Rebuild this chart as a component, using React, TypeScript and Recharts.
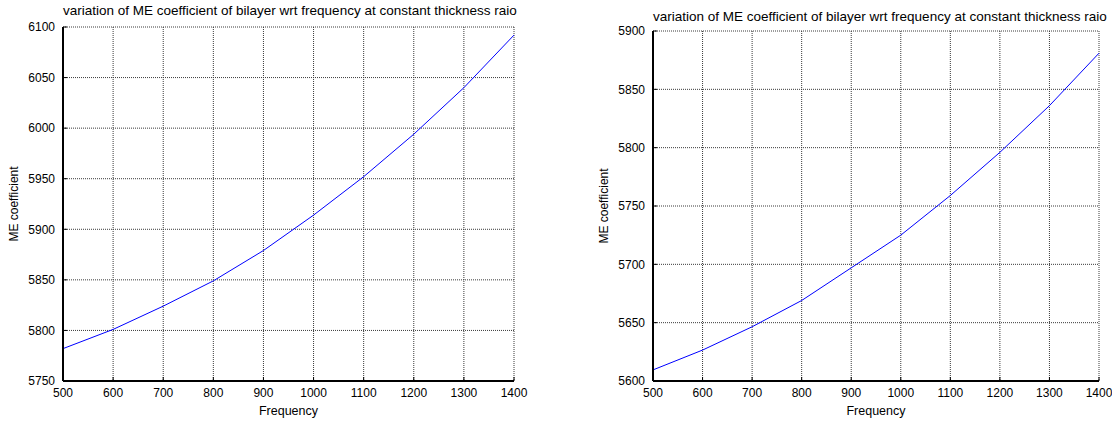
import React from 'react';
import { LineChart, Line, XAxis, YAxis, CartesianGrid } from 'recharts';

const frequency = [500, 600, 700, 800, 900, 1000, 1100, 1200, 1300, 1400];
const meLeft = [5782, 5801, 5824, 5849, 5879, 5914, 5952, 5994, 6040, 6092];
const meRight = [5609.5, 5626.5, 5646.5, 5669, 5697, 5725, 5759, 5796, 5836, 5881];
const xTicks = [500, 600, 700, 800, 900, 1000, 1100, 1200, 1300, 1400];
const yTicksLeft = [5750, 5800, 5850, 5900, 5950, 6000, 6050, 6100];
const yTicksRight = [5600, 5650, 5700, 5750, 5800, 5850, 5900];

const TITLE = 'variation of ME coefficient of bilayer wrt frequency at constant thickness raio';
const X_LABEL = 'Frequency';
const Y_LABEL = 'ME coefficient';

const FONT = '"Liberation Sans", Arial, Helvetica, sans-serif';

const leftData = frequency.map((f, i) => ({ f, v: meLeft[i] }));
const rightData = frequency.map((f, i) => ({ f, v: meRight[i] }));

const YLab = (props: any) => {
  const vb = props.viewBox || {};
  const cx = (vb.x || 0) + 14;
  const cy = (vb.y || 0) + (vb.height || 0) / 2;
  return (
    <text
      x={cx}
      y={cy}
      transform={`rotate(-90 ${cx} ${cy})`}
      textAnchor="middle"
      dominantBaseline="central"
      fontFamily={FONT}
      fontSize={12}
      fill="#000"
    >
      {Y_LABEL}
    </text>
  );
};

const XLab = (props: any) => {
  const vb = props.viewBox || {};
  const cx = (vb.x || 0) + (vb.width || 0) / 2;
  const cy = (vb.y || 0) + 30;
  return (
    <text x={cx} y={cy} textAnchor="middle" dominantBaseline="central" fontFamily={FONT} fontSize={12.5} fill="#000">
      {X_LABEL}
    </text>
  );
};

type PanelProps = {
  data: { f: number; v: number }[];
  yTicks: number[];
  margin: { top: number; right: number; bottom: number; left: number };
};

const Panel = ({ data, yTicks, margin }: PanelProps) => {
  const yDomain = [yTicks[0], yTicks[yTicks.length - 1]];
  const tickStyle = { fontFamily: FONT, fontSize: 12, fill: '#000' };
  return (
    <LineChart width={556} height={421} data={data} margin={margin}>
      <CartesianGrid stroke="#3a3a3a" strokeDasharray="1 1" strokeWidth={1} />
      <XAxis
        dataKey="f"
        type="number"
        domain={[500, 1400]}
        ticks={xTicks}
        interval={0}
        height={40}
        tickSize={-4}
        tickMargin={11}
        tick={tickStyle}
        axisLine={{ stroke: '#000', strokeWidth: 2 }}
        tickLine={{ stroke: '#000' }}
        label={<XLab />}
      />
      <XAxis
        xAxisId="top"
        orientation="top"
        dataKey="f"
        type="number"
        domain={[500, 1400]}
        ticks={xTicks}
        interval={0}
        height={0}
        tickSize={-4}
        tick={false}
        axisLine={{ stroke: '#000', strokeWidth: 2 }}
        tickLine={{ stroke: '#000' }}
      />
      <YAxis
        type="number"
        domain={yDomain}
        ticks={yTicks}
        interval={0}
        width={63}
        tickSize={-4}
        tickMargin={12}
        tick={tickStyle}
        axisLine={{ stroke: '#000', strokeWidth: 2 }}
        tickLine={{ stroke: '#000' }}
        label={<YLab />}
      />
      <YAxis
        yAxisId="right"
        orientation="right"
        type="number"
        domain={yDomain}
        ticks={yTicks}
        interval={0}
        width={0}
        tickSize={-4}
        tick={false}
        axisLine={{ stroke: '#000', strokeWidth: 2 }}
        tickLine={{ stroke: '#000' }}
      />
      <Line
        type="linear"
        dataKey="v"
        stroke="#0000ff"
        strokeWidth={1}
        dot={false}
        isAnimationActive={false}
      />
    </LineChart>
  );
};

const titleStyle = (left: number, width: number, top: number): React.CSSProperties => ({
  position: 'absolute',
  left,
  width,
  top,
  textAlign: 'center',
  fontFamily: FONT,
  fontSize: 13.5,
  lineHeight: '14px',
  color: '#000',
  whiteSpace: 'nowrap',
});

export default function App() {
  return (
    <div
      style={{
        position: 'absolute',
        left: 0,
        top: 0,
        width: 1112,
        height: 421,
        background: '#fff',
        overflow: 'hidden',
      }}
    >
      <div style={{ position: 'absolute', left: 0, top: 0 }}>
        <Panel data={leftData} yTicks={yTicksLeft} margin={{ top: 27, right: 42, bottom: 0, left: 0 }} />
      </div>
      <div style={{ position: 'absolute', left: 556, top: 0 }}>
        <Panel data={rightData} yTicks={yTicksRight} margin={{ top: 31, right: 13, bottom: 0, left: 34 }} />
      </div>
      <div style={titleStyle(63, 451, 4)}>{TITLE}</div>
      <div style={titleStyle(653, 446, 10)}>{TITLE}</div>
    </div>
  );
}
